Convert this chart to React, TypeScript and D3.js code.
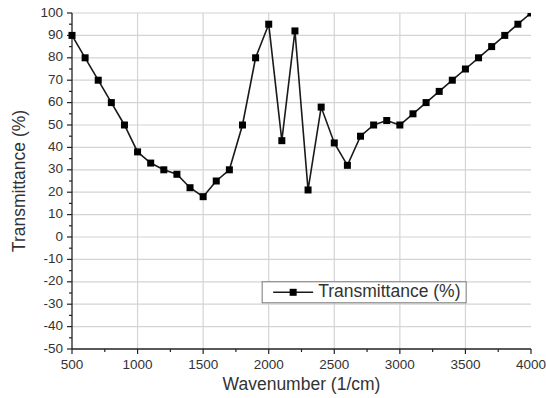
import { useMemo } from "react";
import * as d3 from "d3";

const wavenumbers = [
  500, 600, 700, 800, 900, 1000, 1100, 1200, 1300, 1400, 1500, 1600, 1700, 1800,
  1900, 2000, 2100, 2200, 2300, 2400, 2500, 2600, 2700, 2800, 2900, 3000, 3100,
  3200, 3300, 3400, 3500, 3600, 3700, 3800, 3900, 4000,
];
const transmittance = [
  90, 80, 70, 60, 50, 38, 33, 30, 28, 22, 18, 25, 30, 50, 80, 95, 43, 92, 21, 58,
  42, 32, 45, 50, 52, 50, 55, 60, 65, 70, 75, 80, 85, 90, 95, 100,
];
const xTickValues = [500, 1000, 1500, 2000, 2500, 3000, 3500, 4000];
const yTickValues = [100, 90, 80, 70, 60, 50, 40, 30, 20, 10, 0, -10, -20, -30, -40, -50];

const WIDTH = 546;
const HEIGHT = 398;
const FONT = "'Liberation Sans', Arial, sans-serif";

export default function App() {
  const margin = { top: 13, right: 15, bottom: 49, left: 72 };
  const innerWidth = WIDTH - margin.left - margin.right;
  const innerHeight = HEIGHT - margin.top - margin.bottom;

  const xScale = d3.scaleLinear().domain([500, 4000]).range([0, innerWidth]);
  const yScale = d3.scaleLinear().domain([-50, 100]).range([innerHeight, 0]);

  const points = wavenumbers.map((w, i) => ({ x: w, y: transmittance[i] }));

  const linePath = useMemo(
    () =>
      d3
        .line<{ x: number; y: number }>()
        .x((d) => xScale(d.x))
        .y((d) => yScale(d.y))(points) || "",
    []
  );

  const xMinor = d3.range(750, 4000, 500);
  const yMinor = d3.range(-45, 100, 10);

  return (
    <div style={{ position: "fixed", left: 0, top: 0, background: "#fff" }}>
      <svg width={WIDTH} height={HEIGHT} style={{ display: "block" }}>
        <rect width={WIDTH} height={HEIGHT} fill="#fff" />
        <defs>
          <clipPath id="plot-clip">
            <rect x={-10} y={0} width={innerWidth + 10} height={innerHeight + 10} />
          </clipPath>
        </defs>
        <g transform={`translate(${margin.left}, ${margin.top})`}>
          {/* Grid lines */}
          {yTickValues
            .filter((v) => v !== -50)
            .map((v) => (
              <line
                key={`gy${v}`}
                x1={0}
                x2={innerWidth}
                y1={yScale(v)}
                y2={yScale(v)}
                stroke="#d4d4d4"
                strokeWidth={1.2}
              />
            ))}
          {xTickValues
            .filter((v) => v !== 500 && v !== 4000)
            .map((v) => (
              <line
                key={`gx${v}`}
                x1={xScale(v)}
                x2={xScale(v)}
                y1={0}
                y2={innerHeight}
                stroke="#d4d4d4"
                strokeWidth={1.2}
              />
            ))}

          {/* X-axis */}
          <g transform={`translate(0, ${innerHeight})`}>
            <line x1={0} x2={innerWidth} stroke="#222" strokeWidth={1.3} />
            {xTickValues.map((v) => (
              <g key={`xt${v}`} transform={`translate(${xScale(v)}, 0)`}>
                <line y2={5} stroke="#222" strokeWidth={1.2} />
                <text
                  y={20}
                  textAnchor="middle"
                  fontSize={13.5}
                  fontFamily={FONT}
                  fill="#333"
                >
                  {v}
                </text>
              </g>
            ))}
            {xMinor.map((v) => (
              <line
                key={`xm${v}`}
                x1={xScale(v)}
                x2={xScale(v)}
                y2={3}
                stroke="#222"
                strokeWidth={1.2}
              />
            ))}
            <text
              x={innerWidth / 2}
              y={41}
              textAnchor="middle"
              fontSize={17.5}
              fontFamily={FONT}
              fill="#333"
            >
              Wavenumber (1/cm)
            </text>
          </g>

          {/* Y-axis */}
          <g>
            <line y1={0} y2={innerHeight} stroke="#222" strokeWidth={1.3} />
            {yTickValues.map((v) => (
              <g key={`yt${v}`} transform={`translate(0, ${yScale(v)})`}>
                <line x2={-5} stroke="#222" strokeWidth={1.2} />
                <text
                  x={-9}
                  textAnchor="end"
                  dominantBaseline="middle"
                  fontSize={13.5}
                  fontFamily={FONT}
                  fill="#333"
                >
                  {v}
                </text>
              </g>
            ))}
            {yMinor.map((v) => (
              <line
                key={`ym${v}`}
                y1={yScale(v)}
                y2={yScale(v)}
                x2={-3}
                stroke="#222"
                strokeWidth={1.2}
              />
            ))}
            <text
              x={-47}
              y={innerHeight / 2}
              textAnchor="middle"
              fontSize={17.5}
              fontFamily={FONT}
              fill="#333"
              transform={`rotate(-90, -47, ${innerHeight / 2})`}
            >
              Transmittance (%)
            </text>
          </g>

          {/* Series */}
          <g clipPath="url(#plot-clip)">
            <path d={linePath} fill="none" stroke="#1a1a1a" strokeWidth={1.6} />
            {points.map((p) => (
              <rect
                key={p.x}
                x={xScale(p.x) - 3.5}
                y={yScale(p.y) - 3.5}
                width={7}
                height={7}
                fill="#000"
              />
            ))}
          </g>

          {/* Legend */}
          <g transform={`translate(${xScale(1950)}, ${yScale(-20)})`}>
            <rect
              width={204}
              height={21}
              fill="#fff"
              stroke="#777"
              strokeWidth={1}
            />
            <line x1={11} x2={51} y1={10.5} y2={10.5} stroke="#1a1a1a" strokeWidth={1.6} />
            <rect x={27.5} y={7} width={7} height={7} fill="#000" />
            <text
              x={56}
              y={11}
              dominantBaseline="middle"
              fontSize={17.5}
              fontFamily={FONT}
              fill="#333"
            >
              Transmittance (%)
            </text>
          </g>
        </g>
      </svg>
    </div>
  );
}
